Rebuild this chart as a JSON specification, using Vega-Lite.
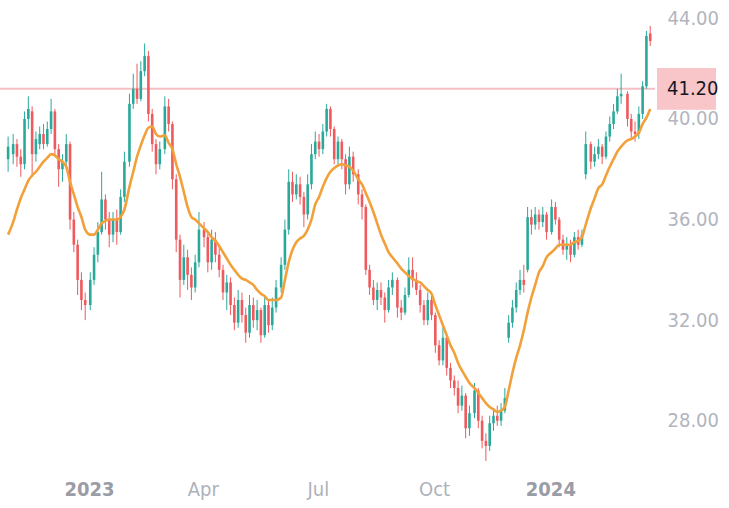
{
  "$schema": "https://vega.github.io/schema/vega-lite/v6.json",
  "width": 655,
  "height": 465,
  "autosize": "none",
  "padding": {"left": 0, "top": 0, "right": 74, "bottom": 43},
  "background": "#ffffff",
  "config": {"view": {"stroke": null}, "font": "'DejaVu Sans Condensed', Roboto, sans-serif"},
  "data": {"values": [
    {"d":"2022-10-29","o":38.4,"h":39.3,"l":37.9,"c":38.9,"m":35.4},
    {"d":"2022-11-02","o":38.6,"h":39.4,"l":38.2,"c":39.0,"m":35.9},
    {"d":"2022-11-05","o":39.0,"h":39.2,"l":38.1,"c":38.5,"m":36.4},
    {"d":"2022-11-08","o":38.5,"h":38.8,"l":37.7,"c":38.2,"m":36.85},
    {"d":"2022-11-11","o":38.2,"h":40.3,"l":38.0,"c":40.0,"m":37.2},
    {"d":"2022-11-14","o":40.0,"h":40.9,"l":39.6,"c":40.4,"m":37.55},
    {"d":"2022-11-17","o":40.3,"h":40.5,"l":37.7,"c":38.6,"m":37.75},
    {"d":"2022-11-20","o":38.6,"h":39.5,"l":38.3,"c":39.2,"m":37.9},
    {"d":"2022-11-23","o":39.0,"h":39.7,"l":38.8,"c":39.4,"m":38.1},
    {"d":"2022-11-26","o":39.4,"h":39.8,"l":38.8,"c":39.0,"m":38.3},
    {"d":"2022-11-29","o":39.0,"h":39.9,"l":38.9,"c":39.6,"m":38.45},
    {"d":"2022-12-02","o":39.6,"h":40.8,"l":39.4,"c":40.3,"m":38.6},
    {"d":"2022-12-05","o":40.3,"h":40.4,"l":38.5,"c":38.8,"m":38.55},
    {"d":"2022-12-08","o":38.8,"h":39.0,"l":37.3,"c":38.0,"m":38.4},
    {"d":"2022-12-11","o":38.0,"h":38.6,"l":37.5,"c":38.3,"m":38.3},
    {"d":"2022-12-14","o":38.3,"h":39.4,"l":38.1,"c":39.0,"m":38.1},
    {"d":"2022-12-17","o":39.0,"h":39.1,"l":35.6,"c":36.0,"m":37.5},
    {"d":"2022-12-20","o":36.0,"h":36.3,"l":34.7,"c":35.0,"m":37.0},
    {"d":"2022-12-23","o":35.0,"h":35.2,"l":33.0,"c":33.6,"m":36.5},
    {"d":"2022-12-26","o":33.6,"h":33.9,"l":32.4,"c":32.8,"m":36.1},
    {"d":"2022-12-29","o":32.8,"h":33.1,"l":32.0,"c":32.6,"m":35.6},
    {"d":"2023-01-02","o":32.6,"h":33.9,"l":32.4,"c":33.6,"m":35.4},
    {"d":"2023-01-05","o":33.6,"h":34.9,"l":33.4,"c":34.6,"m":35.4},
    {"d":"2023-01-08","o":34.6,"h":35.9,"l":34.3,"c":35.5,"m":35.6},
    {"d":"2023-01-11","o":35.5,"h":37.9,"l":35.4,"c":36.8,"m":35.85},
    {"d":"2023-01-14","o":36.8,"h":37.0,"l":35.6,"c":36.0,"m":35.95},
    {"d":"2023-01-17","o":36.0,"h":36.3,"l":34.9,"c":35.4,"m":36.0},
    {"d":"2023-01-20","o":35.4,"h":36.3,"l":35.1,"c":36.0,"m":36.0},
    {"d":"2023-01-23","o":36.0,"h":36.4,"l":35.0,"c":35.5,"m":36.0},
    {"d":"2023-01-26","o":35.5,"h":37.2,"l":35.4,"c":36.9,"m":36.1},
    {"d":"2023-01-29","o":36.9,"h":38.7,"l":36.7,"c":38.3,"m":36.4},
    {"d":"2023-02-02","o":38.3,"h":41.0,"l":38.1,"c":40.6,"m":37.3},
    {"d":"2023-02-05","o":40.6,"h":41.8,"l":40.4,"c":41.2,"m":37.9},
    {"d":"2023-02-08","o":41.2,"h":42.2,"l":40.6,"c":40.8,"m":38.5},
    {"d":"2023-02-11","o":40.8,"h":42.3,"l":40.7,"c":41.9,"m":38.95},
    {"d":"2023-02-14","o":41.9,"h":43.0,"l":41.7,"c":42.5,"m":39.35},
    {"d":"2023-02-17","o":42.5,"h":42.7,"l":39.9,"c":40.2,"m":39.65},
    {"d":"2023-02-20","o":40.2,"h":40.4,"l":38.7,"c":39.0,"m":39.7},
    {"d":"2023-02-23","o":39.0,"h":39.2,"l":37.8,"c":38.2,"m":39.4},
    {"d":"2023-02-26","o":38.2,"h":39.1,"l":38.0,"c":38.8,"m":39.3},
    {"d":"2023-03-02","o":38.8,"h":40.9,"l":38.6,"c":40.5,"m":39.35},
    {"d":"2023-03-05","o":40.5,"h":40.8,"l":39.5,"c":39.8,"m":39.05},
    {"d":"2023-03-08","o":39.8,"h":39.9,"l":37.2,"c":37.6,"m":38.8},
    {"d":"2023-03-11","o":37.6,"h":37.8,"l":34.7,"c":35.2,"m":38.2},
    {"d":"2023-03-14","o":35.2,"h":35.4,"l":32.9,"c":33.6,"m":37.7},
    {"d":"2023-03-17","o":33.6,"h":35.0,"l":33.4,"c":34.5,"m":37.1},
    {"d":"2023-03-20","o":34.5,"h":34.8,"l":33.2,"c":33.8,"m":36.5},
    {"d":"2023-03-23","o":33.8,"h":34.1,"l":32.8,"c":33.3,"m":36.1},
    {"d":"2023-03-26","o":33.3,"h":34.6,"l":33.1,"c":34.3,"m":36.0},
    {"d":"2023-03-29","o":34.3,"h":36.3,"l":34.1,"c":35.6,"m":35.85},
    {"d":"2023-04-02","o":35.6,"h":35.9,"l":34.9,"c":35.3,"m":35.65},
    {"d":"2023-04-05","o":35.3,"h":35.5,"l":33.9,"c":34.3,"m":35.5},
    {"d":"2023-04-08","o":34.3,"h":35.6,"l":34.0,"c":35.2,"m":35.3},
    {"d":"2023-04-11","o":35.2,"h":35.5,"l":34.3,"c":34.6,"m":35.15},
    {"d":"2023-04-14","o":34.6,"h":34.9,"l":33.7,"c":34.0,"m":34.95},
    {"d":"2023-04-17","o":34.0,"h":34.2,"l":32.8,"c":33.1,"m":34.7},
    {"d":"2023-04-20","o":33.1,"h":33.8,"l":32.4,"c":33.5,"m":34.45},
    {"d":"2023-04-23","o":33.5,"h":33.7,"l":32.2,"c":32.6,"m":34.2},
    {"d":"2023-04-26","o":32.6,"h":32.9,"l":31.6,"c":31.9,"m":34.0},
    {"d":"2023-04-29","o":31.9,"h":33.2,"l":31.7,"c":32.8,"m":33.8},
    {"d":"2023-05-02","o":32.8,"h":33.1,"l":31.9,"c":32.2,"m":33.65},
    {"d":"2023-05-05","o":32.2,"h":32.5,"l":31.1,"c":31.5,"m":33.6},
    {"d":"2023-05-08","o":31.5,"h":33.0,"l":31.3,"c":32.6,"m":33.5},
    {"d":"2023-05-11","o":32.6,"h":32.9,"l":31.7,"c":32.0,"m":33.4},
    {"d":"2023-05-14","o":32.0,"h":32.8,"l":31.6,"c":32.4,"m":33.2},
    {"d":"2023-05-17","o":32.4,"h":32.5,"l":31.1,"c":31.4,"m":33.05},
    {"d":"2023-05-20","o":31.4,"h":33.0,"l":31.3,"c":32.6,"m":32.95},
    {"d":"2023-05-23","o":32.6,"h":32.8,"l":31.5,"c":31.8,"m":32.8},
    {"d":"2023-05-26","o":31.8,"h":32.9,"l":31.6,"c":32.5,"m":32.8},
    {"d":"2023-05-29","o":32.5,"h":33.6,"l":32.3,"c":33.3,"m":32.8},
    {"d":"2023-06-02","o":33.3,"h":34.5,"l":33.1,"c":34.2,"m":32.9},
    {"d":"2023-06-05","o":34.2,"h":36.0,"l":34.0,"c":35.6,"m":33.6},
    {"d":"2023-06-08","o":35.6,"h":38.0,"l":35.4,"c":37.5,"m":34.3},
    {"d":"2023-06-11","o":37.5,"h":37.9,"l":36.7,"c":37.0,"m":34.8},
    {"d":"2023-06-14","o":37.0,"h":37.8,"l":36.8,"c":37.4,"m":35.1},
    {"d":"2023-06-17","o":37.4,"h":37.7,"l":36.6,"c":36.9,"m":35.25},
    {"d":"2023-06-20","o":36.9,"h":37.1,"l":35.7,"c":36.2,"m":35.35},
    {"d":"2023-06-23","o":36.2,"h":37.8,"l":36.0,"c":37.4,"m":35.6},
    {"d":"2023-06-26","o":37.4,"h":39.0,"l":37.2,"c":38.6,"m":36.0},
    {"d":"2023-06-29","o":38.6,"h":39.5,"l":38.4,"c":39.1,"m":36.6},
    {"d":"2023-07-02","o":39.1,"h":39.4,"l":38.5,"c":38.8,"m":36.9},
    {"d":"2023-07-05","o":38.8,"h":39.8,"l":38.6,"c":39.5,"m":37.3},
    {"d":"2023-07-08","o":39.5,"h":40.6,"l":39.3,"c":40.4,"m":37.65},
    {"d":"2023-07-11","o":40.4,"h":40.5,"l":39.3,"c":39.6,"m":37.9},
    {"d":"2023-07-14","o":39.6,"h":39.7,"l":38.2,"c":38.4,"m":38.05},
    {"d":"2023-07-17","o":38.4,"h":39.3,"l":38.1,"c":39.1,"m":38.15},
    {"d":"2023-07-20","o":39.1,"h":39.2,"l":38.0,"c":38.4,"m":38.2},
    {"d":"2023-07-23","o":38.4,"h":38.6,"l":37.0,"c":37.4,"m":38.15},
    {"d":"2023-07-26","o":37.4,"h":38.9,"l":37.2,"c":38.5,"m":38.1},
    {"d":"2023-07-29","o":38.5,"h":38.7,"l":37.5,"c":37.8,"m":37.95},
    {"d":"2023-08-02","o":37.8,"h":38.0,"l":36.6,"c":37.0,"m":37.6},
    {"d":"2023-08-05","o":37.0,"h":37.2,"l":36.0,"c":36.5,"m":37.4},
    {"d":"2023-08-08","o":36.5,"h":36.6,"l":33.8,"c":34.0,"m":37.05},
    {"d":"2023-08-11","o":34.0,"h":34.2,"l":33.0,"c":33.3,"m":36.7},
    {"d":"2023-08-14","o":33.3,"h":33.6,"l":32.6,"c":32.8,"m":36.3},
    {"d":"2023-08-17","o":32.8,"h":33.5,"l":32.4,"c":33.2,"m":35.85},
    {"d":"2023-08-20","o":33.2,"h":33.5,"l":32.6,"c":32.9,"m":35.4},
    {"d":"2023-08-23","o":32.9,"h":33.1,"l":31.9,"c":32.4,"m":35.05},
    {"d":"2023-08-26","o":32.4,"h":33.6,"l":32.3,"c":33.3,"m":34.7},
    {"d":"2023-08-29","o":33.3,"h":33.9,"l":33.0,"c":33.6,"m":34.5},
    {"d":"2023-09-02","o":33.6,"h":33.7,"l":32.1,"c":32.5,"m":34.25},
    {"d":"2023-09-05","o":32.5,"h":32.8,"l":32.0,"c":32.3,"m":34.05},
    {"d":"2023-09-08","o":32.3,"h":33.3,"l":32.2,"c":33.0,"m":33.9},
    {"d":"2023-09-11","o":33.0,"h":34.5,"l":32.9,"c":34.0,"m":33.75},
    {"d":"2023-09-14","o":34.0,"h":34.5,"l":33.3,"c":33.6,"m":33.65},
    {"d":"2023-09-17","o":33.6,"h":33.9,"l":33.0,"c":33.2,"m":33.55},
    {"d":"2023-09-20","o":33.2,"h":33.4,"l":32.3,"c":32.6,"m":33.5},
    {"d":"2023-09-23","o":32.6,"h":32.8,"l":31.8,"c":32.0,"m":33.35},
    {"d":"2023-09-26","o":32.0,"h":33.1,"l":31.8,"c":32.8,"m":33.2},
    {"d":"2023-09-29","o":32.8,"h":33.0,"l":32.0,"c":32.2,"m":33.05},
    {"d":"2023-10-02","o":32.2,"h":32.3,"l":30.7,"c":31.0,"m":32.6},
    {"d":"2023-10-05","o":31.0,"h":31.2,"l":30.2,"c":30.4,"m":32.2},
    {"d":"2023-10-08","o":30.4,"h":31.7,"l":30.2,"c":31.3,"m":31.8},
    {"d":"2023-10-11","o":31.3,"h":31.4,"l":29.8,"c":30.1,"m":31.4},
    {"d":"2023-10-14","o":30.1,"h":30.3,"l":29.3,"c":29.6,"m":31.0},
    {"d":"2023-10-17","o":29.6,"h":29.8,"l":29.0,"c":29.3,"m":30.7},
    {"d":"2023-10-20","o":29.3,"h":29.6,"l":28.3,"c":28.6,"m":30.3},
    {"d":"2023-10-23","o":28.6,"h":29.4,"l":28.4,"c":29.0,"m":30.0},
    {"d":"2023-10-26","o":29.0,"h":29.1,"l":27.3,"c":27.7,"m":29.75},
    {"d":"2023-10-29","o":27.7,"h":28.6,"l":27.4,"c":28.3,"m":29.5},
    {"d":"2023-11-02","o":28.3,"h":29.5,"l":28.1,"c":29.2,"m":29.3},
    {"d":"2023-11-05","o":29.2,"h":29.3,"l":27.7,"c":28.0,"m":29.1},
    {"d":"2023-11-08","o":28.0,"h":28.2,"l":26.9,"c":27.2,"m":28.9},
    {"d":"2023-11-11","o":27.2,"h":27.5,"l":26.4,"c":27.0,"m":28.7},
    {"d":"2023-11-14","o":27.0,"h":28.2,"l":26.8,"c":27.9,"m":28.55},
    {"d":"2023-11-17","o":27.9,"h":28.5,"l":27.6,"c":28.2,"m":28.45},
    {"d":"2023-11-20","o":28.2,"h":28.6,"l":27.8,"c":28.0,"m":28.35},
    {"d":"2023-11-23","o":28.0,"h":28.7,"l":27.8,"c":28.4,"m":28.4},
    {"d":"2023-11-26","o":28.4,"h":29.3,"l":28.3,"c":28.9,"m":28.55},
    {"d":"2023-11-29","o":31.3,"h":32.2,"l":31.1,"c":31.9,"m":29.2},
    {"d":"2023-12-02","o":31.9,"h":32.8,"l":31.7,"c":32.5,"m":29.9},
    {"d":"2023-12-05","o":32.5,"h":33.5,"l":32.3,"c":33.2,"m":30.5},
    {"d":"2023-12-08","o":33.2,"h":34.0,"l":33.0,"c":33.6,"m":31.0},
    {"d":"2023-12-11","o":33.6,"h":34.2,"l":33.1,"c":33.4,"m":31.6},
    {"d":"2023-12-14","o":34.0,"h":36.5,"l":33.9,"c":36.1,"m":32.3},
    {"d":"2023-12-17","o":36.1,"h":36.4,"l":35.4,"c":35.8,"m":32.9},
    {"d":"2023-12-20","o":35.8,"h":36.5,"l":35.6,"c":36.2,"m":33.4},
    {"d":"2023-12-23","o":36.2,"h":36.4,"l":35.6,"c":35.9,"m":33.9},
    {"d":"2023-12-26","o":35.9,"h":36.5,"l":35.7,"c":36.2,"m":34.15},
    {"d":"2023-12-29","o":36.2,"h":36.3,"l":35.2,"c":35.5,"m":34.5},
    {"d":"2024-01-02","o":35.5,"h":36.8,"l":35.4,"c":36.5,"m":34.7},
    {"d":"2024-01-05","o":36.5,"h":36.7,"l":35.8,"c":36.0,"m":34.85},
    {"d":"2024-01-08","o":36.0,"h":36.1,"l":34.9,"c":35.2,"m":35.0},
    {"d":"2024-01-11","o":35.2,"h":35.4,"l":34.6,"c":34.8,"m":35.0},
    {"d":"2024-01-14","o":34.8,"h":35.3,"l":34.4,"c":35.0,"m":35.0},
    {"d":"2024-01-17","o":35.0,"h":35.2,"l":34.3,"c":34.6,"m":35.0},
    {"d":"2024-01-20","o":34.6,"h":35.5,"l":34.5,"c":35.3,"m":35.1},
    {"d":"2024-01-23","o":35.3,"h":35.6,"l":34.8,"c":35.0,"m":35.15},
    {"d":"2024-01-26","o":35.0,"h":35.6,"l":34.9,"c":35.4,"m":35.3},
    {"d":"2024-01-29","o":37.8,"h":39.5,"l":37.6,"c":39.0,"m":35.8},
    {"d":"2024-02-02","o":39.0,"h":39.1,"l":38.0,"c":38.3,"m":36.45},
    {"d":"2024-02-05","o":38.3,"h":38.9,"l":38.1,"c":38.6,"m":36.85},
    {"d":"2024-02-08","o":38.6,"h":39.2,"l":38.4,"c":38.9,"m":37.25},
    {"d":"2024-02-11","o":38.9,"h":39.0,"l":38.2,"c":38.5,"m":37.4},
    {"d":"2024-02-14","o":38.5,"h":39.5,"l":38.4,"c":39.3,"m":37.75},
    {"d":"2024-02-17","o":39.3,"h":40.1,"l":39.1,"c":39.8,"m":38.1},
    {"d":"2024-02-20","o":39.8,"h":40.6,"l":39.6,"c":40.3,"m":38.4},
    {"d":"2024-02-23","o":40.3,"h":41.2,"l":40.2,"c":40.9,"m":38.7},
    {"d":"2024-02-26","o":40.9,"h":41.8,"l":40.6,"c":41.0,"m":38.9},
    {"d":"2024-03-02","o":41.0,"h":41.1,"l":39.7,"c":40.0,"m":39.15},
    {"d":"2024-03-05","o":40.0,"h":40.2,"l":39.2,"c":39.5,"m":39.2},
    {"d":"2024-03-08","o":39.5,"h":39.9,"l":39.1,"c":39.4,"m":39.3},
    {"d":"2024-03-11","o":39.4,"h":40.5,"l":39.2,"c":40.2,"m":39.45},
    {"d":"2024-03-14","o":40.2,"h":41.5,"l":40.0,"c":41.3,"m":39.8},
    {"d":"2024-03-17","o":41.3,"h":43.5,"l":41.2,"c":43.3,"m":40.05},
    {"d":"2024-03-20","o":43.4,"h":43.7,"l":42.9,"c":43.1,"m":40.4}
  ]},
  "layer": [
    {
      "data": {"values": [{"p": 41.2}]},
      "mark": {"type": "rule", "color": "#f6bfc3", "strokeWidth": 2},
      "encoding": {
        "y": {"field": "p", "type": "quantitative"}
      }
    },
    {
      "mark": {"type": "rule", "strokeWidth": 1},
      "encoding": {
        "x": {
          "field": "d", "type": "temporal",
          "scale": {"type": "utc", "domain": [{"year": 2022, "month": 10, "date": 22, "hours": 14, "utc": true}, {"year": 2024, "month": 3, "date": 23, "hours": 19, "utc": true}]},
          "axis": {
            "title": null, "grid": false, "domain": false, "ticks": false,
            "values": [{"year": 2023, "month": 1, "date": 1, "utc": true}, {"year": 2023, "month": 4, "date": 1, "utc": true}, {"year": 2023, "month": 7, "date": 1, "utc": true}, {"year": 2023, "month": 10, "date": 1, "utc": true}, {"year": 2024, "month": 1, "date": 1, "utc": true}],
            "labelExpr": "utcmonth(datum.value) == 0 ? utcFormat(datum.value, '%Y') : utcFormat(datum.value, '%b')",
            "labelFont": "'DejaVu Sans Condensed', Roboto, sans-serif",
            "labelFontSize": 20,
            "labelColor": {"condition": {"test": "utcmonth(datum.value) == 0", "value": "#9a9ca6"}, "value": "#aeb1ba"},
            "labelFontWeight": {"condition": {"test": "utcmonth(datum.value) == 0", "value": "bold"}, "value": "normal"},
            "labelPadding": 14
          }
        },
        "y": {
          "field": "l", "type": "quantitative",
          "scale": {"domain": [26.24, 44.73], "nice": false, "zero": false},
          "axis": {
            "orient": "right", "title": null, "grid": false, "domain": false, "ticks": false,
            "values": [28, 32, 36, 40, 44], "format": ".2f",
            "labelFont": "'DejaVu Sans Condensed', Roboto, sans-serif", "labelFontSize": 20, "labelColor": "#b2b5be", "labelPadding": 12
          }
        },
        "y2": {"field": "h"},
        "color": {"condition": {"test": "datum.c >= datum.o", "value": "#2aa99b"}, "value": "#ee5a5d"}
      }
    },
    {
      "mark": {"type": "rule", "strokeWidth": 2.6},
      "encoding": {
        "x": {"field": "d", "type": "temporal"},
        "y": {"field": "o", "type": "quantitative"},
        "y2": {"field": "c"},
        "color": {"condition": {"test": "datum.c >= datum.o", "value": "#2aa99b"}, "value": "#ee5a5d"}
      }
    },
    {
      "mark": {"type": "line", "color": "#f2a03a", "strokeWidth": 2.6, "interpolate": "monotone"},
      "encoding": {
        "x": {"field": "d", "type": "temporal"},
        "y": {"field": "m", "type": "quantitative"}
      }
    },
    {
      "data": {"values": [{"p": 41.2, "lo": 40.37, "hi": 42.03, "t": "41.20"}]},
      "mark": {"type": "rect", "color": "#f8c5c8", "clip": false},
      "encoding": {
        "x": {"value": {"expr": "width + 2"}},
        "x2": {"value": {"expr": "width + 61"}},
        "y": {"field": "lo", "type": "quantitative"},
        "y2": {"field": "hi"}
      }
    },
    {
      "data": {"values": [{"p": 41.2, "t": "41.20"}]},
      "mark": {"type": "text", "align": "left", "baseline": "middle", "font": "'DejaVu Sans Condensed', Roboto, sans-serif", "fontSize": 20, "color": "#131722", "clip": false},
      "encoding": {
        "x": {"value": {"expr": "width + 12"}},
        "y": {"field": "p", "type": "quantitative"},
        "text": {"field": "t"}
      }
    }
  ]
}
